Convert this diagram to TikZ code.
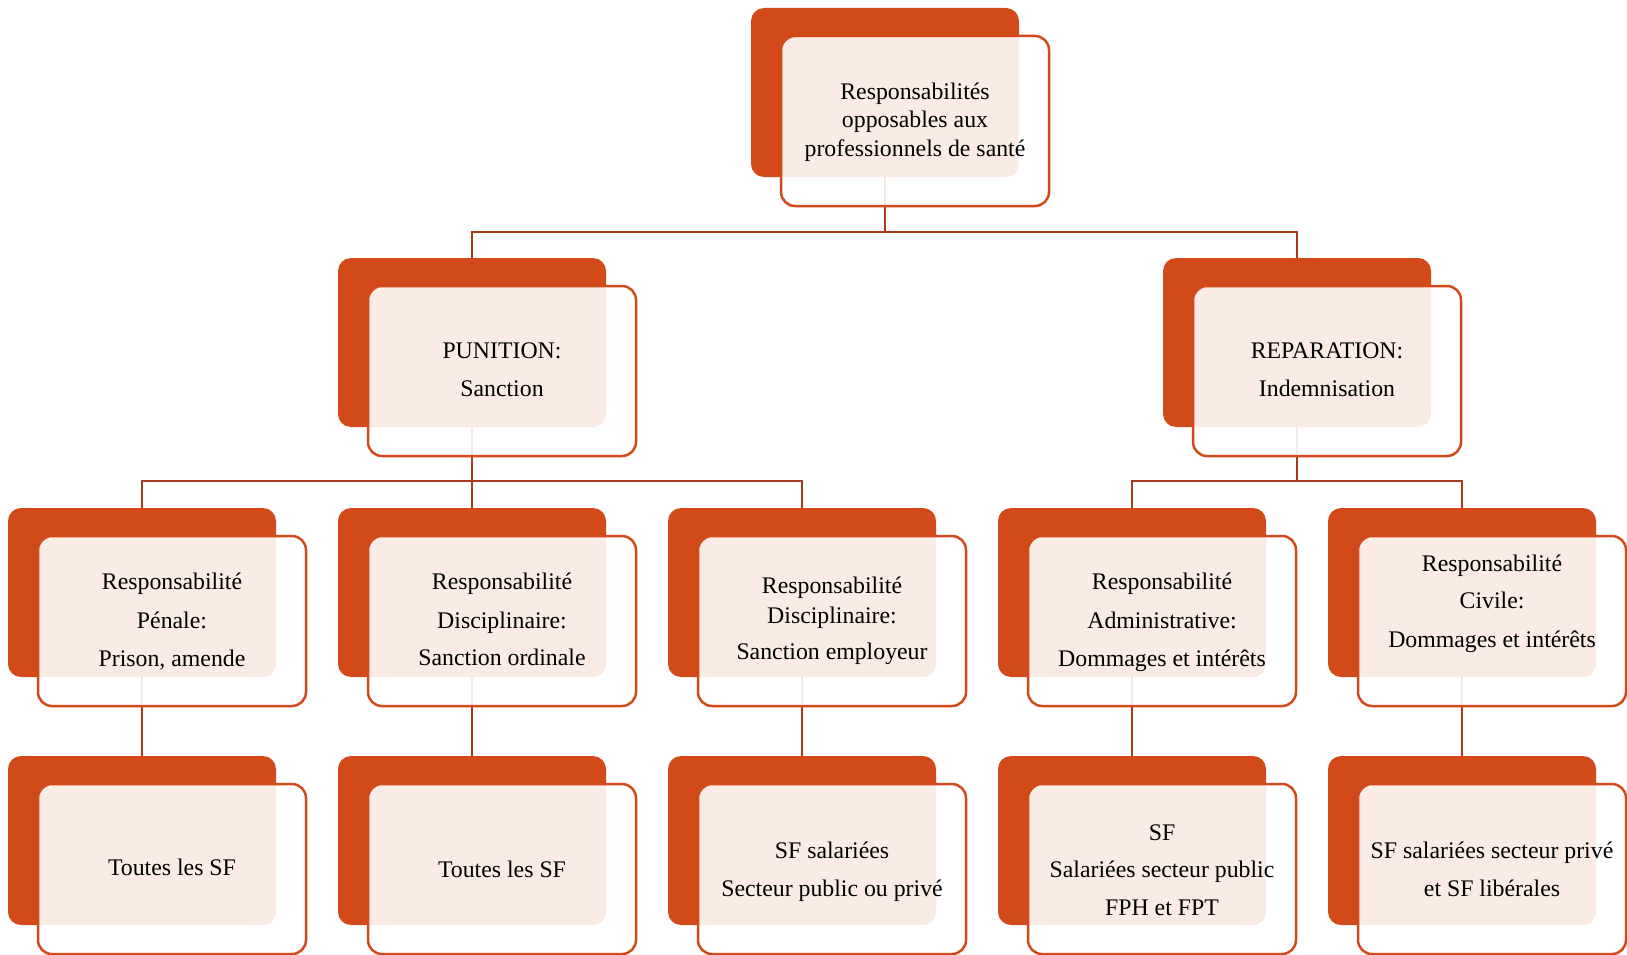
\documentclass[tikz,border=0pt]{standalone}
\usepackage{fontspec}
\setmainfont{Liberation Serif}
\definecolor{orng}{HTML}{D24A19}
\definecolor{conncol}{HTML}{A83A1B}
\begin{document}
\begin{tikzpicture}[x=1pt,y=-1pt,
  backbox/.style={rectangle,rounded corners=13pt,fill=orng,draw=none,minimum width=268pt,minimum height=169pt,inner sep=0pt},
  frontbox/.style={rectangle,rounded corners=14pt,fill=white,fill opacity=0.89,draw=orng,line width=2.5pt,minimum width=268pt,minimum height=170pt,inner sep=0pt},
  conn/.style={draw=conncol,line width=2.8pt},
  txt/.style={anchor=base,inner sep=0pt,font=\fontsize{23.8}{28}\selectfont,text=black}]
\useasboundingbox (0,0) rectangle (1627,955);
% back boxes
\node[backbox] (o0) at (885,92.5) {};
\node[backbox] (o1) at (472,342.5) {};
\node[backbox] (o2) at (1297,342.5) {};
\node[backbox] (o11) at (142,592.5) {};
\node[backbox] (o12) at (472,592.5) {};
\node[backbox] (o13) at (802,592.5) {};
\node[backbox] (o21) at (1132,592.5) {};
\node[backbox] (o22) at (1462,592.5) {};
\node[backbox] (o111) at (142,840.5) {};
\node[backbox] (o121) at (472,840.5) {};
\node[backbox] (o131) at (802,840.5) {};
\node[backbox] (o211) at (1132,840.5) {};
\node[backbox] (o221) at (1462,840.5) {};
% bus coordinates
\coordinate (b0) at (0,232);
\coordinate (b1) at (0,481);
% connectors
\draw[conn] (o0.south) -- (o0.south |- b0) -| (o1.north);
\draw[conn] (o0.south |- b0) -| (o2.north);
\draw[conn] (o1.south) -- (o1.south |- b1) -| (o11.north);
\draw[conn] (o1.south |- b1) -| (o13.north);
\draw[conn] (o1.south |- b1) -- (o12.north);
\draw[conn] (o2.south) -- (o2.south |- b1) -| (o21.north);
\draw[conn] (o2.south |- b1) -| (o22.north);
\draw[conn] (o11.south) -- (o111.north);
\draw[conn] (o12.south) -- (o121.north);
\draw[conn] (o13.south) -- (o131.north);
\draw[conn] (o21.south) -- (o211.north);
\draw[conn] (o22.south) -- (o221.north);
% front boxes
\node[frontbox] (f0) at (915,121) {};
\node[frontbox] (f1) at (502,371) {};
\node[frontbox] (f2) at (1327,371) {};
\node[frontbox] (f11) at (172,621) {};
\node[frontbox] (f12) at (502,621) {};
\node[frontbox] (f13) at (832,621) {};
\node[frontbox] (f21) at (1162,621) {};
\node[frontbox] (f22) at (1492,621) {};
\node[frontbox] (f111) at (172,869) {};
\node[frontbox] (f121) at (502,869) {};
\node[frontbox] (f131) at (832,869) {};
\node[frontbox] (f211) at (1162,869) {};
\node[frontbox] (f221) at (1492,869) {};
% texts
\node[txt] (t0a) at (915,100) {Responsabilités};
\node[txt] (t0b) at (915,128) {opposables aux};
\node[txt] (t0c) at (915,157) {professionnels de santé};
\node[txt] (t1a) at (502,358) {PUNITION:};
\node[txt] (t1b) at (502,396) {Sanction};
\node[txt] (t2a) at (1327,358) {REPARATION:};
\node[txt] (t2b) at (1327,396) {Indemnisation};
\node[txt] (t11a) at (172,589) {Responsabilité};
\node[txt] (t11b) at (172,628) {Pénale:};
\node[txt] (t11c) at (172,666) {Prison, amende};
\node[txt] (t12a) at (502,589) {Responsabilité};
\node[txt] (t12b) at (502,628) {Disciplinaire:};
\node[txt] (t12c) at (502,665) {Sanction ordinale};
\node[txt] (t13a) at (832,593) {Responsabilité};
\node[txt] (t13b) at (832,623) {Disciplinaire:};
\node[txt] (t13c) at (832,659) {Sanction employeur};
\node[txt] (t21a) at (1162,589) {Responsabilité};
\node[txt] (t21b) at (1162,628) {Administrative:};
\node[txt] (t21c) at (1162,666) {Dommages et intérêts};
\node[txt] (t22a) at (1492,571) {Responsabilité};
\node[txt] (t22b) at (1492,608) {Civile:};
\node[txt] (t22c) at (1492,647) {Dommages et intérêts};
\node[txt] (t111) at (172,875) {Toutes les SF};
\node[txt] (t121) at (502,877) {Toutes les SF};
\node[txt] (t131a) at (832,858) {SF salariées};
\node[txt] (t131b) at (832,896) {Secteur public ou privé};
\node[txt] (t211a) at (1162,840) {SF};
\node[txt] (t211b) at (1162,877) {Salariées secteur public};
\node[txt] (t211c) at (1162,915) {FPH et FPT};
\node[txt] (t221a) at (1492,858) {SF salariées secteur privé};
\node[txt] (t221b) at (1492,896) {et SF libérales};
\end{tikzpicture}
\end{document}
